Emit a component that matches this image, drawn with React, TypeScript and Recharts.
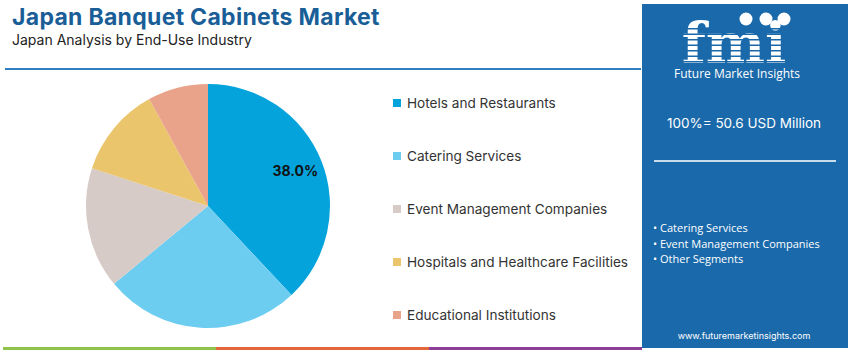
import { PieChart, Pie, Cell, Legend } from "recharts";

const categories = [
  "Hotels and Restaurants",
  "Catering Services",
  "Event Management Companies",
  "Hospitals and Healthcare Facilities",
  "Educational Institutions",
];
const shares = [38.0, 26.0, 16.0, 12.0, 8.0];
const colors = ["#04a3dc", "#6dcdf1", "#d6cbc6", "#ebc56c", "#e9a38b"];
const highlights = ["Catering Services", "Event Management Companies", "Other Segments"];
const stripeBars = ["#8dc449", "#e3673a", "#8f3e97"];

const pieData = categories.map((name, i) => ({ name, value: shares[i] }));

const RAD = Math.PI / 180;

const renderLabel = (props: any) => {
  const { cx, cy, midAngle, outerRadius, index, value } = props;
  if (index !== 0) return null;
  const r = outerRadius * 0.77;
  const x = cx + r * Math.cos(-midAngle * RAD);
  const y = cy + r * Math.sin(-midAngle * RAD);
  return (
    <text
      x={x}
      y={y - 1}
      textAnchor="middle"
      dominantBaseline="central"
      fill="#111"
      fontSize={14}
      fontWeight={700}
      fontFamily="Inter, sans-serif"
    >
      {value.toFixed(1)}%
    </text>
  );
};

const renderLegend = () => (
  <div style={{ fontFamily: "Inter, sans-serif" }}>
    {categories.map((c, i) => (
      <div
        key={c}
        style={{ height: 53, display: "flex", alignItems: "flex-start" }}
      >
        <span
          style={{
            width: 8,
            height: 8,
            background: colors[i],
            marginTop: 6,
            marginRight: 6,
            display: "inline-block",
          }}
        />
        <span style={{ fontSize: 13.6, color: "#333", lineHeight: "20px" }}>{c}</span>
      </div>
    ))}
  </div>
);

export default function App() {
  return (
    <div
      style={{
        position: "fixed",
        left: 0,
        top: 0,
        width: 850,
        height: 351,
        background: "#fff",
        overflow: "hidden",
        fontFamily: "Inter, sans-serif",
      }}
    >
      <div
        style={{
          position: "absolute",
          left: 12,
          top: 3,
          fontSize: 23,
          fontWeight: 700,
          color: "#1a5e98",
          letterSpacing: 0.3,
        }}
      >
        Japan Banquet Cabinets Market
      </div>
      <div
        style={{ position: "absolute", left: 12, top: 31, fontSize: 14, color: "#222" }}
      >
        Japan Analysis by End-Use Industry
      </div>
      <div
        style={{
          position: "absolute",
          left: 5,
          top: 68,
          width: 636,
          height: 2,
          background: "#2f7fc1",
        }}
      />

      <div style={{ position: "absolute", left: 0, top: 0 }}>
        <PieChart
          width={640}
          height={345}
          margin={{ top: 0, right: 0, bottom: 0, left: 0 }}
        >
          <Pie
            data={pieData}
            dataKey="value"
            nameKey="name"
            cx={208}
            cy={206}
            outerRadius={122}
            startAngle={90}
            endAngle={-270}
            stroke="none"
            label={renderLabel}
            labelLine={false}
            isAnimationActive={false}
          >
            {pieData.map((d, i) => (
              <Cell key={d.name} fill={colors[i]} />
            ))}
          </Pie>
          <Legend
            layout="vertical"
            content={renderLegend}
            wrapperStyle={{ left: 393, top: 93, width: 250 }}
          />
        </PieChart>
      </div>

      {stripeBars.map((c, i) => (
        <div
          key={c}
          style={{
            position: "absolute",
            left: 3 + i * 213,
            top: 347,
            width: 213,
            height: 3,
            background: c,
          }}
        />
      ))}

      <div
        style={{
          position: "absolute",
          left: 642,
          top: 4,
          width: 206,
          height: 344,
          background: "#1a69aa",
          color: "#fff",
        }}
      >
        <div style={{ position: "absolute", left: 28, top: 6 }}>
          <svg width={134} height={56} viewBox="0 0 134 56" style={{ overflow: "visible" }}>
            <text
              x={64}
              y={53}
              textAnchor="middle"
              fill="#fff"
              fontSize={56}
              fontWeight={700}
              fontFamily="DejaVu Serif, serif"
            >
              fmi
            </text>
            {[18, 23.5, 29, 34.5, 40, 45.5, 51].map((y) => (
              <rect key={y} x={0} y={y} width={134} height={1.5} fill="#1a69aa" />
            ))}
            <circle cx={76} cy={9} r={6.5} fill="#fff" />
            <circle cx={96} cy={9} r={6.5} fill="#fff" />
            <circle cx={114} cy={9} r={6.5} fill="#fff" />
          </svg>
        </div>
        <div
          style={{
            position: "absolute",
            left: 0,
            top: 61,
            width: 190,
            textAlign: "center",
            fontSize: 12,
            fontFamily: "'Open Sans', sans-serif",
          }}
        >
          Future Market Insights
        </div>
        <div
          style={{
            position: "absolute",
            left: 0,
            top: 111,
            width: 204,
            textAlign: "center",
            fontSize: 13.5,
          }}
        >
          100%= 50.6 USD Million
        </div>
        <div
          style={{
            position: "absolute",
            left: 12,
            top: 156,
            width: 182,
            height: 1.5,
            background: "#c9dcec",
          }}
        />
        <div
          style={{
            position: "absolute",
            left: 11,
            top: 216,
            fontSize: 11,
            fontFamily: "'Open Sans', sans-serif",
            lineHeight: "15.5px",
          }}
        >
          {highlights.map((h) => (
            <div key={h}>{"\u2022 " + h}</div>
          ))}
        </div>
        <div
          style={{
            position: "absolute",
            left: 0,
            top: 326,
            width: 204,
            textAlign: "center",
            fontSize: 9,
          }}
        >
          www.futuremarketinsights.com
        </div>
      </div>
    </div>
  );
}
